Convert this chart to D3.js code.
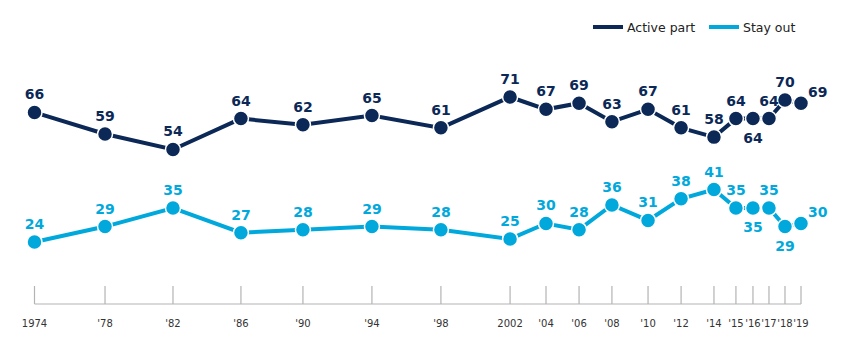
<!DOCTYPE html>
<html lang="en">
<head>
<meta charset="UTF-8">
<title>Active part vs Stay out</title>
<script src="https://d3js.org/d3.v7.min.js"></script>
<style>
  body { margin: 0; background: #fff; }
  text { font-family: "DejaVu Sans", "Open Sans", sans-serif; }
</style>
</head>
<body>
<svg width="850" height="350"></svg>
<script>
// survey dates (fractional year) and results
const surveyDates = [1974, 1978.14, 1982.13, 1986.12, 1989.76, 1993.81, 1997.86, 2001.92, 2004.03, 2005.97, 2007.9, 2010.02, 2011.96, 2013.89, 2015.18, 2016.18, 2017.12, 2018.06, 2019];
const tickLabels = ["1974", "'78", "'82", "'86", "'90", "'94", "'98", "2002", "'04", "'06", "'08", "'10", "'12", "'14", "'15", "'16", "'17", "'18", "'19"];
const activePart = [66, 59, 54, 64, 62, 65, 61, 71, 67, 69, 63, 67, 61, 58, 64, 64, 64, 70, 69];
const stayOut = [24, 29, 35, 27, 28, 29, 28, 25, 30, 28, 36, 31, 38, 41, 35, 35, 35, 29, 30];
// where the value label sits: a = above, b = below, r = right
const activeLabelPos = ["a","a","a","a","a","a","a","a","a","a","a","a","a","a","a","b","a","a","r"];
const stayLabelPos = ["a","a","a","a","a","a","a","a","a","a","a","a","a","a","a","b","a","b","r"];

const svg = d3.select("svg");

const x = d3.scaleLinear().domain([1974, 2019]).range([34.5, 801]);
const y = d3.scaleLinear().domain([24, 71]).range([242, 97]);

// bottom axis with upward ticks
const axisY = 304;
const axis = svg.append("g").attr("transform", "translate(0," + axisY + ")");
axis.append("line")
    .attr("x1", x(1974)).attr("x2", x(2019))
    .attr("stroke", "#b3b3b3").attr("stroke-width", 1.2);
axis.selectAll("line.tick")
    .data(surveyDates)
    .enter().append("line")
    .attr("class", "tick")
    .attr("x1", d => x(d)).attr("x2", d => x(d))
    .attr("y1", 0).attr("y2", -18)
    .attr("stroke", "#b3b3b3").attr("stroke-width", 1.2);
axis.selectAll("text")
    .data(surveyDates)
    .enter().append("text")
    .attr("x", d => x(d))
    .attr("y", 23)
    .attr("text-anchor", "middle")
    .style("font-size", "10px")
    .style("fill", "#333")
    .text((d, i) => tickLabels[i]);

const series = [
    {name: "Active part", values: activePart, pos: activeLabelPos, color: "#0b2856"},
    {name: "Stay out", values: stayOut, pos: stayLabelPos, color: "#00a8dc"}
];

const line = d3.line()
    .x((d, i) => x(surveyDates[i]))
    .y(d => y(d));

series.forEach(s => {
    const g = svg.append("g");
    g.append("path")
        .datum(s.values)
        .attr("d", line)
        .attr("fill", "none")
        .attr("stroke", s.color)
        .attr("stroke-width", 4);

    g.selectAll("circle")
        .data(s.values)
        .enter().append("circle")
        .attr("cx", (d, i) => x(surveyDates[i]))
        .attr("cy", d => y(d))
        .attr("r", 7.5)
        .attr("fill", s.color)
        .attr("stroke", "#fff")
        .attr("stroke-width", 1.5);

    g.selectAll("text")
        .data(s.values)
        .enter().append("text")
        .attr("x", (d, i) => s.pos[i] === "r" ? x(surveyDates[i]) + 7 : x(surveyDates[i]))
        .attr("y", (d, i) => {
            if (s.pos[i] === "b") return y(d) + 24;
            if (s.pos[i] === "r") return y(d) - 6;
            return y(d) - 13;
        })
        .attr("text-anchor", (d, i) => s.pos[i] === "r" ? "start" : "middle")
        .style("font-size", "14px")
        .style("font-weight", "700")
        .style("fill", s.color)
        .text(d => d);
});

// legend
const legend = svg.append("g").attr("transform", "translate(593,27)");
const legendX = [0, 116];
series.forEach((s, i) => {
    legend.append("line")
        .attr("x1", legendX[i]).attr("x2", legendX[i] + 30)
        .attr("stroke", s.color).attr("stroke-width", 4);
    legend.append("text")
        .attr("x", legendX[i] + 34)
        .attr("y", 4.5)
        .style("font-size", "12.5px")
        .style("fill", "#222")
        .text(s.name);
});
</script>
</body>
</html>
